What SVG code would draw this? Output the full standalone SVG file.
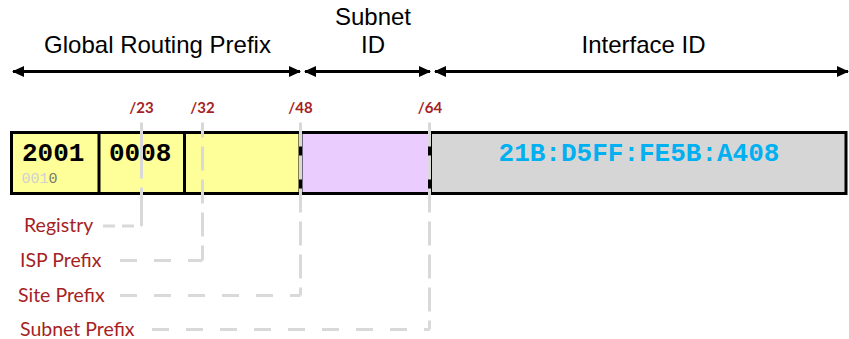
<svg xmlns="http://www.w3.org/2000/svg" width="849" height="339" viewBox="0 0 849 339">
  <style>
    .hdr { font-family: "Liberation Sans", Arial, sans-serif; font-size: 24px; fill: #000; text-anchor: middle; }
    .bits { font-family: Lato, "Open Sans", sans-serif; font-weight: bold; font-size: 15px; fill: #a61f24; text-anchor: middle; }
    .lbl { font-family: Lato, "Open Sans", sans-serif; font-size: 19.5px; fill: #a61f24; }
    .mono { font-family: "Liberation Mono", "Courier New", monospace; font-weight: bold; font-size: 26px; }
    .span { stroke: #000; stroke-width: 3; fill: none; marker-start: url(#head); marker-end: url(#head); }
    .vdash { stroke: #d9d9d9; stroke-width: 3; fill: none; stroke-dasharray: 24 9; }
    .hdash { stroke: #d9d9d9; stroke-width: 3; fill: none; stroke-dasharray: 17 17; }
  </style>
  <defs>
    <marker id="head" markerUnits="userSpaceOnUse" markerWidth="12" markerHeight="11" refX="11" refY="5.5" orient="auto-start-reverse">
      <path d="M0,0 L12,5.5 L0,11 Z" fill="#000"/>
    </marker>
  </defs>

  <rect width="849" height="339" fill="#fff"/>

  <!-- field headings -->
  <g id="hdr-global">
    <text class="hdr" x="157.5" y="53">Global Routing Prefix</text>
    <path class="span" d="M13,71.5 H300"/>
  </g>
  <g id="hdr-subnet">
    <text class="hdr" x="373" y="25">Subnet</text>
    <text class="hdr" x="373" y="53">ID</text>
    <path class="span" d="M305,71.5 H430"/>
  </g>
  <g id="hdr-interface">
    <text class="hdr" x="643.5" y="53">Interface ID</text>
    <path class="span" d="M435,71.5 H848"/>
  </g>

  <!-- address bar -->
  <g id="bar">
    <rect x="11.5" y="132.5" width="289" height="61" fill="#ffff99"/>
    <rect x="300.5" y="132.5" width="129.5" height="61" fill="#eaccff"/>
    <rect x="430" y="132.5" width="416" height="61" fill="#d6d6d6"/>
    <line x1="99" y1="132.5" x2="99" y2="193.5" stroke="#000" stroke-width="3"/>
    <line x1="184.5" y1="132.5" x2="184.5" y2="193.5" stroke="#000" stroke-width="3"/>
    <line x1="300.5" y1="132.5" x2="300.5" y2="193.5" stroke="#000" stroke-width="4"/>
    <line x1="430" y1="132.5" x2="430" y2="193.5" stroke="#000" stroke-width="4"/>
    <rect x="11.5" y="132.5" width="834.5" height="61" fill="none" stroke="#000" stroke-width="3"/>
    <text class="mono" x="22" y="161" fill="#000">2001</text>
    <text class="mono" x="109" y="161" fill="#000">0008</text>
    <text x="21.5" y="183" font-family="'Liberation Mono', 'Courier New', monospace" font-size="15" fill="#d0d0d0">001<tspan fill="#7a7a6a">0</tspan></text>
    <text class="mono" x="639" y="161" fill="#00b0f0" text-anchor="middle" font-size="27">21B:D5FF:FE5B:A408</text>
  </g>

  <!-- prefix length marks -->
  <g id="bits">
    <text class="bits" x="141.5" y="113">/23</text>
    <text class="bits" x="202.5" y="113">/32</text>
    <text class="bits" x="300.5" y="113">/48</text>
    <text class="bits" x="430" y="113">/64</text>
  </g>

  <!-- leader lines -->
  <g id="connectors">
    <path class="vdash" style="stroke-dasharray: 56 9" d="M141.5,122.5 V226"/>
    <path class="hdash" d="M103,226 H141.5" style="stroke-dasharray: 12 7"/>
    <path class="vdash" style="stroke-dashoffset: 9" d="M202.5,122.5 V260.5"/>
    <path class="hdash" d="M120,260.5 H202.5"/>
    <path class="vdash" d="M300.5,122.5 V295.5"/>
    <path class="hdash" d="M120,295.5 H300.5"/>
    <path class="vdash" d="M429.5,122.5 V329.5"/>
    <path class="hdash" d="M152,329.5 H429.5"/>
  </g>

  <!-- prefix names -->
  <g id="lbl-registry"><text class="lbl" x="24" y="232">Registry</text></g>
  <g id="lbl-isp"><text class="lbl" x="20" y="267">ISP Prefix</text></g>
  <g id="lbl-site"><text class="lbl" x="18" y="302">Site Prefix</text></g>
  <g id="lbl-subnet"><text class="lbl" x="20" y="336">Subnet Prefix</text></g>
</svg>
